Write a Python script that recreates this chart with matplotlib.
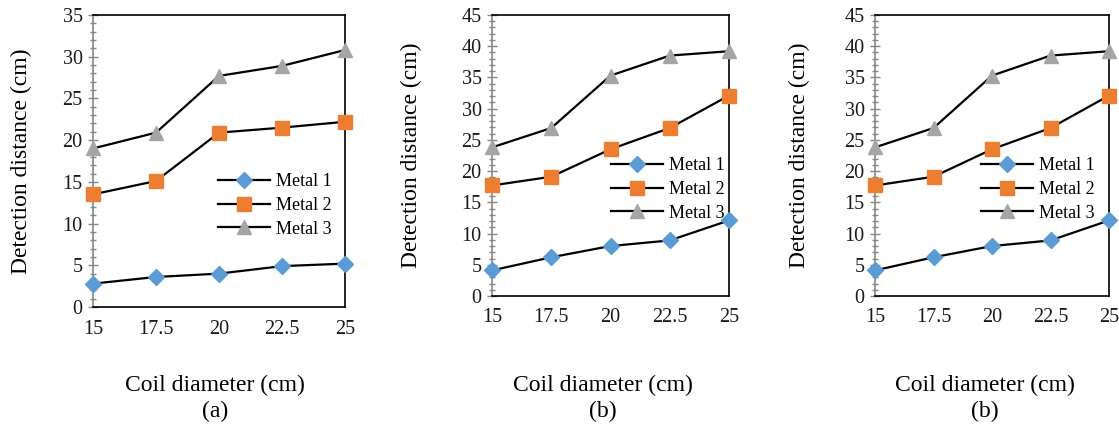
import matplotlib
matplotlib.use("Agg")
import matplotlib.pyplot as plt
from matplotlib.ticker import MultipleLocator

plt.rcParams['font.family'] = ['Liberation Serif', 'DejaVu Serif']

coil = [15, 17.5, 20, 22.5, 25]
xtick_labels = ["15", "17.5", "20", "22.5", "25"]
series_names = ["Metal 1", "Metal 2", "Metal 3"]

a_metal1 = [2.8, 3.6, 4.0, 4.9, 5.2]
a_metal2 = [13.5, 15.1, 20.9, 21.5, 22.2]
a_metal3 = [19.0, 20.9, 27.7, 28.9, 30.8]

b_metal1 = [4.1, 6.2, 8.0, 8.9, 12.1]
b_metal2 = [17.7, 19.1, 23.5, 26.9, 32.1]
b_metal3 = [23.8, 26.9, 35.3, 38.5, 39.2]

c_metal1 = [4.1, 6.2, 8.0, 8.9, 12.1]
c_metal2 = [17.7, 19.1, 23.5, 26.9, 32.1]
c_metal3 = [23.8, 26.9, 35.3, 38.5, 39.2]

panel_letters = ["(a)", "(b)", "(b)"]
ymaxes = [35, 45, 45]

W, H = 1119, 425
fig = plt.figure(figsize=(W / 100, H / 100), dpi=100)

def px_axes(l, r, t, b):
    return [l / W, (H - b) / H, (r - l) / W, (b - t) / H]

boxes = [px_axes(93, 345, 15, 307), px_axes(492, 729, 15, 296), px_axes(875, 1109, 15, 296)]
ylab_x = [32, 422, 810]
xlab_cx = [215, 603, 985]
leg_pos = [(218, 173), (611, 157), (981, 157)]

data = [(a_metal1, a_metal2, a_metal3), (b_metal1, b_metal2, b_metal3), (c_metal1, c_metal2, c_metal3)]
markers = ['D', 's', '^']
mcolors = ['#5B9BD5', '#ED7D31', '#A5A5A5']
msizes = [8, 10, 10]

for i in range(3):
    ax = fig.add_axes(boxes[i])
    for vals, name, mk, mc, ms in zip(data[i], series_names, markers, mcolors, msizes):
        ax.plot(coil, vals, color='black', lw=1.6, marker=mk, markersize=ms,
                markerfacecolor=mc, markeredgecolor=mc, label=name, clip_on=False, zorder=3)
    ax.set_xlim(15, 25)
    ax.set_ylim(0, ymaxes[i])
    ax.set_xticks(coil)
    ax.set_xticklabels(xtick_labels)
    ax.yaxis.set_major_locator(MultipleLocator(5))
    ax.yaxis.set_minor_locator(MultipleLocator(1))
    ax.tick_params(axis='x', length=0, pad=9, labelsize=14.5, labelcolor='#1a1a1a')
    ax.tick_params(axis='y', which='major', direction='inout', length=7, width=1, color='#868686',
                   pad=4, labelsize=14.5, labelcolor='#1a1a1a')
    ax.tick_params(axis='y', which='minor', direction='inout', length=4, width=1, color='#868686')
    ax.spines['left'].set_color('#868686')
    ax.spines['left'].set_linewidth(1.2)
    for s in ['top', 'right', 'bottom']:
        ax.spines[s].set_color('black')
        ax.spines[s].set_linewidth(1.2)
    axl = boxes[i][0] * W
    axw = boxes[i][2] * W
    axb = H - boxes[i][1] * H
    axh = boxes[i][3] * H
    ax.set_ylabel("Detection distance (cm)", fontsize=17)
    ax.yaxis.set_label_coords((ylab_x[i] - axl) / axw, 0.5)
    ax.set_xlabel("Coil diameter (cm)\n" + panel_letters[i], fontsize=17, linespacing=1.27)
    ax.xaxis.set_label_coords((xlab_cx[i] - axl) / axw, (axb - 375) / axh)
    ax.xaxis.label.set_verticalalignment('top')
    lx, ly = leg_pos[i]
    ax.legend(loc='upper left', bbox_to_anchor=((lx - axl) / axw, (axb - ly) / axh),
              frameon=False, fontsize=13, handlelength=2.9, handletextpad=0.3,
              labelspacing=0.38, borderpad=0, borderaxespad=0)

fig.savefig("out.png", dpi=100)
